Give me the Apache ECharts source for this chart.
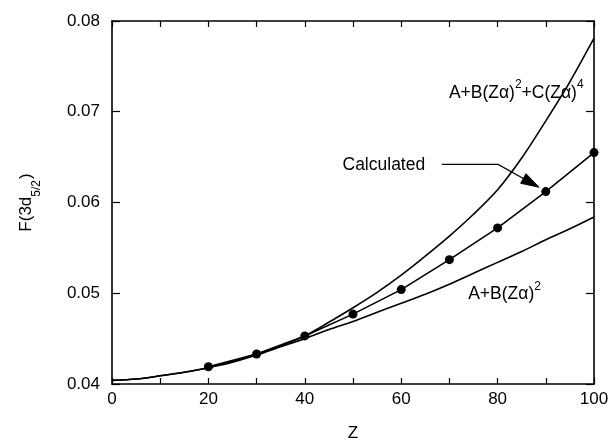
<!DOCTYPE html>
<html>
<head>
<meta charset="utf-8">
<script src="https://cdn.jsdelivr.net/npm/echarts@6/dist/echarts.min.js"></script>
<style>
html,body{margin:0;padding:0;background:#fff;}
#chart{width:610px;height:445px;}
</style>
</head>
<body>
<div id="chart"></div>
<script>
// ---- data ----
const calcZ = [20, 30, 40, 50, 60, 70, 80, 90, 100];
const calcF = [0.0419, 0.0433, 0.0453, 0.0477, 0.0504, 0.0537, 0.0572, 0.0612, 0.0655];

const curveZ = [0, 5, 10, 15, 20, 25, 30, 35, 40, 45, 50, 55, 60, 65, 70, 75, 80, 85, 90, 95, 100];
const quartF = [0.0404, 0.04055, 0.0409, 0.0413, 0.0418, 0.0425, 0.0433, 0.0442, 0.0453, 0.0468, 0.0484, 0.0501,
                0.0520, 0.0541, 0.0563, 0.0587, 0.0614, 0.0649, 0.0690, 0.0733, 0.0781];
const quadF = [0.0404, 0.04055, 0.0409, 0.0413, 0.0418, 0.0424, 0.0432, 0.0441, 0.0450, 0.0460, 0.0469, 0.0479,
               0.0489, 0.0499, 0.0510, 0.0522, 0.0534, 0.0546, 0.0559, 0.0571, 0.0584];

const xTicks = [0, 20, 40, 60, 80, 100];
const yTicks = [0.04, 0.05, 0.06, 0.07, 0.08];

// annotation anchors (data coordinates)
const labelQuart = [69.9, 0.0722];
const labelQuad = [73.9, 0.0500];
const labelCalc = [56.4, 0.0641];
const arrowPath = [[68.4, 0.0642], [80.1, 0.0642], [88.6, 0.06168]];

const pairs = (xs, ys) => xs.map((x, i) => [x, ys[i]]);
const FONT = 'Arial';
const FS = 17;
const FA = 17.5;

const chart = echarts.init(document.getElementById('chart'), null, {renderer: 'canvas'});

const axisCommon = {
  axisLine: {show: true, onZero: false, lineStyle: {color: '#000', width: 1.6}},
  splitLine: {show: false},
};

const option = {
  animation: false,
  backgroundColor: '#fff',
  grid: {left: 112, right: 16, top: 21, bottom: 61, containLabel: false, outerBoundsMode: 'none'},
  xAxis: [
    Object.assign({
      type: 'value', min: xTicks[0], max: xTicks[xTicks.length - 1], interval: 20,
      position: 'bottom',
      name: 'Z', nameLocation: 'middle', nameGap: 41,
      nameTextStyle: {fontFamily: FONT, fontSize: FS, color: '#000'},
      axisTick: {show: true, inside: true, length: 6, lineStyle: {color: '#000', width: 1.2}},
      minorTick: {show: true, splitNumber: 2, length: 6, lineStyle: {color: '#000', width: 1.2}},
      axisLabel: {fontFamily: FONT, fontSize: FS, color: '#000', margin: 7},
    }, axisCommon),
    Object.assign({
      type: 'value', min: xTicks[0], max: xTicks[xTicks.length - 1], interval: 20,
      position: 'top',
      axisTick: {show: true, inside: true, length: 6, lineStyle: {color: '#000', width: 1.2}},
      minorTick: {show: true, splitNumber: 2, length: 6, lineStyle: {color: '#000', width: 1.2}},
      axisLabel: {show: false},
    }, axisCommon)
  ],
  yAxis: [
    Object.assign({
      type: 'value', min: yTicks[0], max: yTicks[yTicks.length - 1], interval: 0.01,
      position: 'left',
      name: '{n|F(3d}{s|5/2}{n|)}', nameLocation: 'middle', nameGap: 74, nameRotate: 90,
      nameTextStyle: {
        fontFamily: FONT, fontSize: FS, color: '#000',
        rich: {
          n: {fontFamily: FONT, fontSize: FS, color: '#000', lineHeight: 20, verticalAlign: 'top'},
          s: {fontFamily: FONT, fontSize: 12, color: '#000', lineHeight: 20, verticalAlign: 'bottom', padding: [0, 1, -5, 0]}
        }
      },
      axisTick: {show: true, inside: true, length: 8, lineStyle: {color: '#000', width: 1.2}},
      axisLabel: {fontFamily: FONT, fontSize: FS, color: '#000', margin: 12,
        formatter: v => v.toFixed(2)},
    }, axisCommon),
    Object.assign({
      type: 'value', min: yTicks[0], max: yTicks[yTicks.length - 1], interval: 0.01,
      position: 'right',
      axisTick: {show: true, inside: true, length: 8, lineStyle: {color: '#000', width: 1.2}},
      axisLabel: {show: false},
    }, axisCommon)
  ],
  series: [
    {
      name: 'A+B(Zα)^2+C(Zα)^4', type: 'line', xAxisIndex: 0, yAxisIndex: 0,
      data: pairs(curveZ, quartF), smooth: 0.3, showSymbol: false,
      lineStyle: {color: '#000', width: 1.6}, z: 3
    },
    {
      name: 'A+B(Zα)^2', type: 'line', xAxisIndex: 0, yAxisIndex: 0,
      data: pairs(curveZ, quadF), smooth: 0.3, showSymbol: false,
      lineStyle: {color: '#000', width: 1.6}, z: 3
    },
    {
      name: 'Calculated', type: 'line', xAxisIndex: 0, yAxisIndex: 0,
      data: pairs(calcZ, calcF), smooth: false,
      symbol: 'circle', symbolSize: 9, showSymbol: true,
      itemStyle: {color: '#000'},
      lineStyle: {color: '#000', width: 1.6}, z: 4
    }
  ]
};
chart.setOption(option);

function px(p) { return chart.convertToPixel({xAxisIndex: 0, yAxisIndex: 0}, p); }

const pQuart = px(labelQuart);
const pQuad = px(labelQuad);
const pCalc = px(labelCalc);
const arr = arrowPath.map(px);
const tip = arr[arr.length - 1];
const prev = arr[arr.length - 2];
const ang = Math.atan2(tip[1] - prev[1], tip[0] - prev[0]);
const headLen = 18, headW = 5.5;
const base = [tip[0] - headLen * Math.cos(ang), tip[1] - headLen * Math.sin(ang)];
const h1 = [base[0] + headW * Math.sin(ang), base[1] - headW * Math.cos(ang)];
const h2 = [base[0] - headW * Math.sin(ang), base[1] + headW * Math.cos(ang)];

const richMain = {
  n: {fontFamily: FONT, fontSize: FA, fill: '#000', lineHeight: 20, verticalAlign: 'bottom'},
  p: {fontFamily: FONT, fontSize: 12, fill: '#000', lineHeight: 20, verticalAlign: 'top', padding: [-3, 0, 0, 0]}
};

chart.setOption({
  graphic: [
    {type: 'text', x: pQuart[0], y: pQuart[1],
     style: {text: '{n|A+B(Zα)}{p|2}{n|+C(Zα)}{p|4}', rich: richMain, verticalAlign: 'middle', align: 'left', fill: '#000'}},
    {type: 'text', x: pQuad[0], y: pQuad[1],
     style: {text: '{n|A+B(Zα)}{p|2}', rich: richMain, verticalAlign: 'middle', align: 'left', fill: '#000'}},
    {type: 'text', x: pCalc[0], y: pCalc[1],
     style: {text: 'Calculated', fontFamily: FONT, fontSize: FA, fill: '#000', verticalAlign: 'middle', align: 'center'}},
    {type: 'polyline', shape: {points: [arr[0], arr[1], base]}, style: {stroke: '#000', lineWidth: 1.3, fill: null}},
    {type: 'polygon', shape: {points: [tip, h1, h2]}, style: {fill: '#000', stroke: '#000', lineWidth: 1}}
  ]
});
</script>
</body>
</html>
